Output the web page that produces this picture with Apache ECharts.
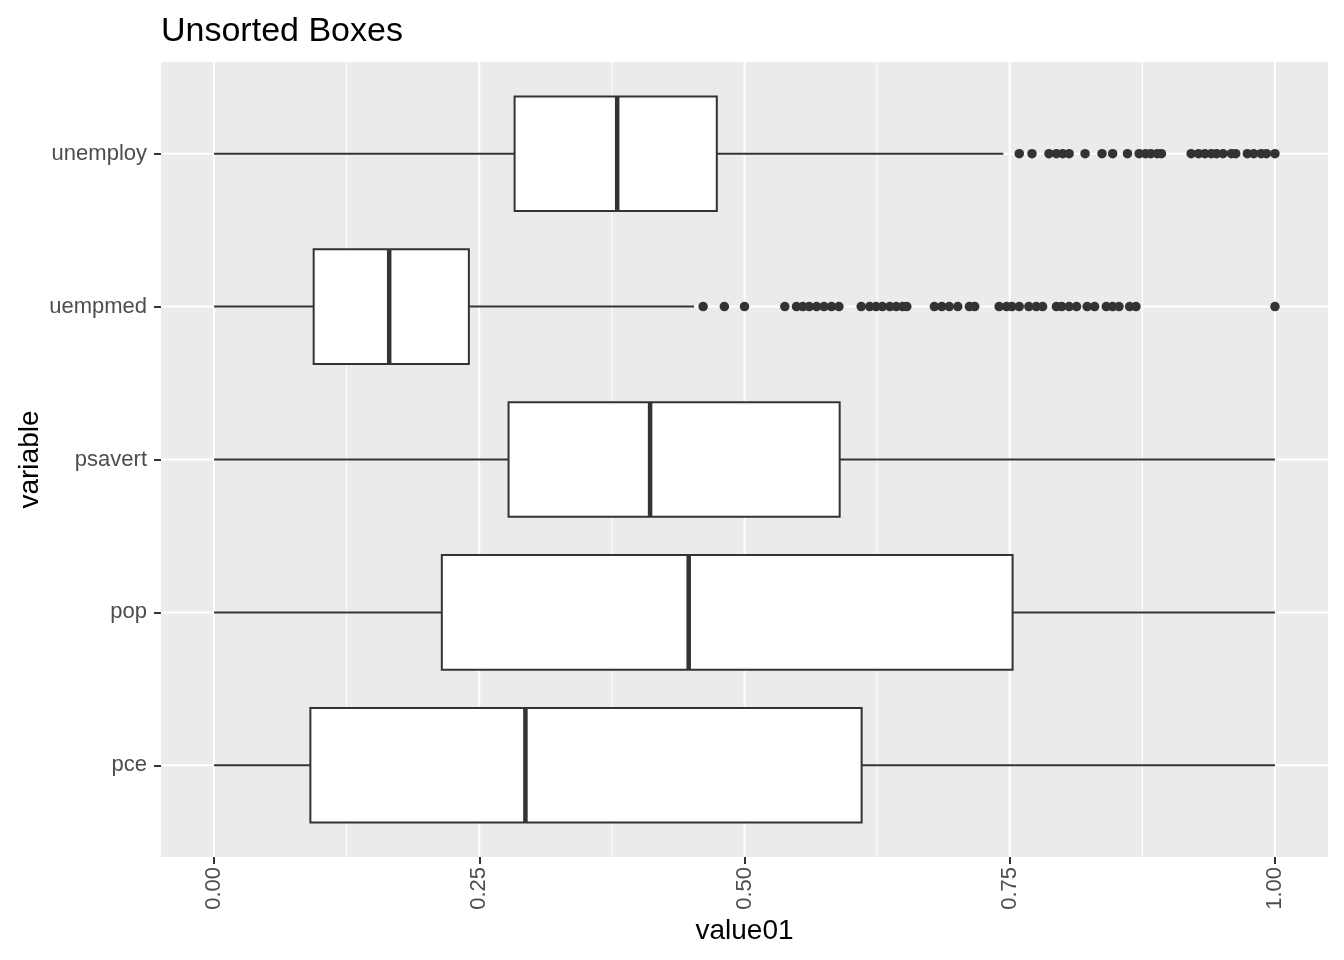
<!DOCTYPE html>
<html>
<head>
<meta charset="utf-8">
<script src="https://cdn.jsdelivr.net/npm/echarts@6/dist/echarts.min.js"></script>
<style>html,body{margin:0;padding:0;background:#fff;}#c{width:1344px;height:960px;}</style>
</head>
<body>
<div id="c"></div>
<script>
// ---- data ----
const categories = ['pce', 'pop', 'psavert', 'uempmed', 'unemploy']; // y positions 1..5 bottom to top
const whiskerLow  = [0, 0, 0, 0, 0];
const q1          = [0.0908, 0.2147, 0.2776, 0.0939, 0.2833];
const median      = [0.2935, 0.4474, 0.4110, 0.1651, 0.3800];
const q3          = [0.6104, 0.7527, 0.5897, 0.2402, 0.4739];
const whiskerHigh = [1.0, 1.0, 1.0, 0.4525, 0.7440];
const unemployOutliers = [0.759, 0.771, 0.787, 0.794, 0.800, 0.806, 0.821, 0.837, 0.847, 0.861,
  0.872, 0.878, 0.883, 0.889, 0.893, 0.921, 0.928, 0.934, 0.940, 0.945, 0.951, 0.959, 0.963,
  0.974, 0.980, 0.987, 0.992, 1.0];
const uempmedOutliers = [0.461, 0.481, 0.500, 0.538, 0.549, 0.555, 0.561, 0.568, 0.575, 0.582,
  0.589, 0.610, 0.618, 0.624, 0.630, 0.637, 0.643, 0.649, 0.653, 0.679, 0.686, 0.693, 0.701,
  0.712, 0.717, 0.740, 0.747, 0.752, 0.759, 0.768, 0.775, 0.781, 0.794, 0.799, 0.806, 0.813,
  0.823, 0.830, 0.841, 0.847, 0.853, 0.863, 0.869, 1.0];
const xTicks = [0, 0.25, 0.5, 0.75, 1];
const xTickLabels = ['0.00', '0.25', '0.50', '0.75', '1.00'];
const xMinorGrid = [0.125, 0.375, 0.625, 0.875];
const yTicks = [1, 2, 3, 4, 5];

// ---- build ----
const FONT = 'Liberation Sans, Arial, sans-serif';
const boxData = categories.map((c, i) => [whiskerLow[i], i + 1, q1[i], median[i], q3[i], whiskerHigh[i]]);
const outlierData = []
  .concat(unemployOutliers.map(v => [v, categories.indexOf('unemploy') + 1]))
  .concat(uempmedOutliers.map(v => [v, categories.indexOf('uempmed') + 1]));
const gridData = []
  .concat(xTicks.map(v => [v, 0, 0]))
  .concat(xMinorGrid.map(v => [v, 0, 1]))
  .concat(yTicks.map(v => [0, v, 2]));

const chart = echarts.init(document.getElementById('c'), null, {renderer: 'canvas'});
chart.setOption({
  animation: false,
  backgroundColor: '#ffffff',
  title: {
    text: 'Unsorted Boxes', left: 161, top: 15, padding: 0,
    textStyle: {fontFamily: FONT, fontSize: 34, fontWeight: 'normal', color: '#000000'}
  },
  grid: {left: 161, right: 16, top: 62, bottom: 103, show: true, backgroundColor: '#EBEBEB', borderWidth: 0},
  xAxis: {
    type: 'value', min: -0.05, max: 1.05,
    name: 'value01', nameLocation: 'middle', nameGap: 60, nameMoveOverlap: false,
    nameTextStyle: {fontFamily: FONT, fontSize: 28, color: '#000000'},
    axisLine: {show: false, onZero: false},
    splitLine: {show: false},
    axisTick: {show: true, customValues: xTicks, length: 7, lineStyle: {color: '#333333', width: 2}},
    axisLabel: {
      customValues: xTicks, rotate: 90, margin: 10,
      fontFamily: FONT, fontSize: 22, color: '#4D4D4D',
      formatter: v => xTickLabels[xTicks.indexOf(v)] ?? ''
    }
  },
  yAxis: {
    type: 'value', min: 0.4, max: 5.6,
    name: 'variable', nameLocation: 'middle', nameGap: 117, nameMoveOverlap: false,
    nameTextStyle: {fontFamily: FONT, fontSize: 28, color: '#000000'},
    axisLine: {show: false, onZero: false},
    splitLine: {show: false},
    axisTick: {show: true, customValues: yTicks, length: 7, lineStyle: {color: '#333333', width: 2}},
    axisLabel: {
      customValues: yTicks, margin: 14,
      fontFamily: FONT, fontSize: 22, color: '#4D4D4D',
      formatter: v => categories[Math.round(v) - 1] ?? ''
    }
  },
  series: [
    {
      type: 'custom', z: 1, silent: true,
      data: gridData,
      encode: {x: 0, y: 1},
      clip: true,
      renderItem: function (params, api) {
        const cs = params.coordSys;
        const kind = api.value(2);
        if (kind === 2) {
          const y = api.coord([0, api.value(1)])[1];
          return {type: 'line', shape: {x1: cs.x, y1: y, x2: cs.x + cs.width, y2: y},
            style: {stroke: '#FFFFFF', lineWidth: 2}};
        }
        const x = api.coord([api.value(0), 1])[0];
        return {type: 'line', shape: {x1: x, y1: cs.y, x2: x, y2: cs.y + cs.height},
          style: {stroke: '#FFFFFF', lineWidth: kind === 0 ? 2 : 1}};
      }
    },
    {
      type: 'custom', z: 3, silent: true,
      data: boxData,
      encode: {x: [0, 2, 3, 4, 5], y: 1},
      renderItem: function (params, api) {
        const lo = api.value(0), y = api.value(1), a = api.value(2), m = api.value(3), b = api.value(4), hi = api.value(5);
        const half = 0.375;
        const cy = api.coord([a, y])[1];
        const top = api.coord([a, y + half])[1];
        const bot = api.coord([a, y - half])[1];
        const xLo = api.coord([lo, y])[0], xA = api.coord([a, y])[0], xM = api.coord([m, y])[0],
              xB = api.coord([b, y])[0], xHi = api.coord([hi, y])[0];
        const dark = '#333333';
        return {
          type: 'group',
          children: [
            {type: 'line', shape: {x1: xLo, y1: cy, x2: xA, y2: cy}, style: {stroke: dark, lineWidth: 2}},
            {type: 'line', shape: {x1: xB, y1: cy, x2: xHi, y2: cy}, style: {stroke: dark, lineWidth: 2}},
            {type: 'rect', shape: {x: xA, y: top, width: xB - xA, height: bot - top},
              style: {fill: '#FFFFFF', stroke: dark, lineWidth: 2}},
            {type: 'line', shape: {x1: xM, y1: top, x2: xM, y2: bot}, style: {stroke: dark, lineWidth: 4.5}}
          ]
        };
      }
    },
    {
      type: 'scatter', z: 4, silent: true,
      data: outlierData,
      symbol: 'circle', symbolSize: 9.5,
      itemStyle: {color: '#333333', opacity: 1}
    }
  ]
});
</script>
</body>
</html>
